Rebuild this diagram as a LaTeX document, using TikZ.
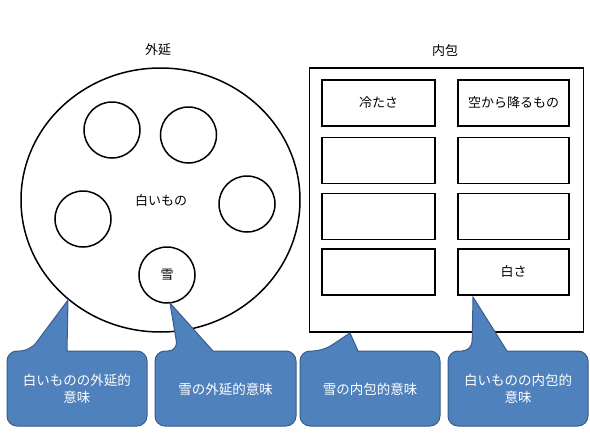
\documentclass[tikz,border=0pt]{standalone}
\usepackage{fontspec}
\setmainfont{Noto Sans CJK JP}
\usetikzlibrary{shapes.geometric}
\definecolor{callfill}{HTML}{4F81BD}
\definecolor{callline}{HTML}{385D8A}
\tikzset{
  lw/.style={line width=1.5pt},
  smallc/.style={circle, draw, lw, minimum size=56pt, inner sep=0pt, font=\fontsize{13pt}{15pt}\selectfont},
  innerbox/.style={rectangle, draw, lw, minimum height=46pt, inner sep=0pt, font=\fontsize{13pt}{15pt}\selectfont},
  title/.style={font=\fontsize{13pt}{15pt}\selectfont},
  callshape/.style={fill=callfill, draw=callline, line width=1pt},
  calltext/.style={text=white, align=center, font=\fontsize{13.5pt}{17pt}\selectfont, inner sep=0pt}
}
\newcommand{\mycallout}[7]{%
  % #1 left x, #2 right x, #3 base left x, #4 base right x, #5 tip name
  \path[callshape] (#4,351) [rounded corners=10pt] -- (#2,351) -- (#2,426) -- (#1,426) -- (#1,351) -- (#3,351) [sharp corners] -- (#5) -- cycle;
}
\begin{document}
\begin{tikzpicture}[x=1pt,y=-1pt]
\useasboundingbox[fill=white] (0,0) rectangle (590,442);
% titles
\node[title] (t1) at (158,50) {外延};
\node[title] (t2) at (445,51) {内包};
% extension ellipse
\node[ellipse, draw, lw, minimum width=279pt, minimum height=264pt, inner sep=0pt, font=\fontsize{13pt}{15pt}\selectfont] (ext) at (160.5,200) {};
\node[title] (white) at (161,201) {白いもの};
\node[smallc] (s1) at (112,130) {};
\node[smallc] (s2) at (188.5,135) {};
\node[smallc] (s3) at (247,204) {};
\node[smallc] (s4) at (83,219) {};
\node[smallc] (snow) at (167,275) {雪};
% intension rectangle
\node[rectangle, draw, lw, minimum width=274pt, minimum height=264pt, inner sep=0pt] (int) at (446.5,200) {};
\node[innerbox, minimum width=113pt] (l1) at (378.5,103) {冷たさ};
\node[innerbox, minimum width=113pt] (l2) at (378.5,160.5) {};
\node[innerbox, minimum width=113pt] (l3) at (378.5,216.5) {};
\node[innerbox, minimum width=113pt] (l4) at (378.5,272) {};
\node[innerbox, minimum width=111pt] (r1) at (513.5,103) {空から降るもの};
\node[innerbox, minimum width=111pt] (r2) at (513.5,160.5) {};
\node[innerbox, minimum width=111pt] (r3) at (513.5,216.5) {};
\node[innerbox, minimum width=111pt] (r4) at (513.5,272) {白さ};
% callout tips
\coordinate (tip1) at (68,300);
\coordinate (tip2) at (170,303);
\coordinate (tip3) at (350,333);
\coordinate (tip4) at (473,297);
\mycallout{7}{147}{30}{67}{tip1}{}{}
\mycallout{155}{296}{178}{213}{tip2}{}{}
\mycallout{300}{440}{323}{358}{tip3}{}{}
\mycallout{448}{588}{472}{507}{tip4}{}{}
\node[calltext] (c1) at (77,389) {白いものの外延的\\意味};
\node[calltext] (c2) at (225.5,389) {雪の外延的意味};
\node[calltext] (c3) at (370,389) {雪の内包的意味};
\node[calltext] (c4) at (518,389) {白いものの内包的\\意味};
\end{tikzpicture}
\end{document}
